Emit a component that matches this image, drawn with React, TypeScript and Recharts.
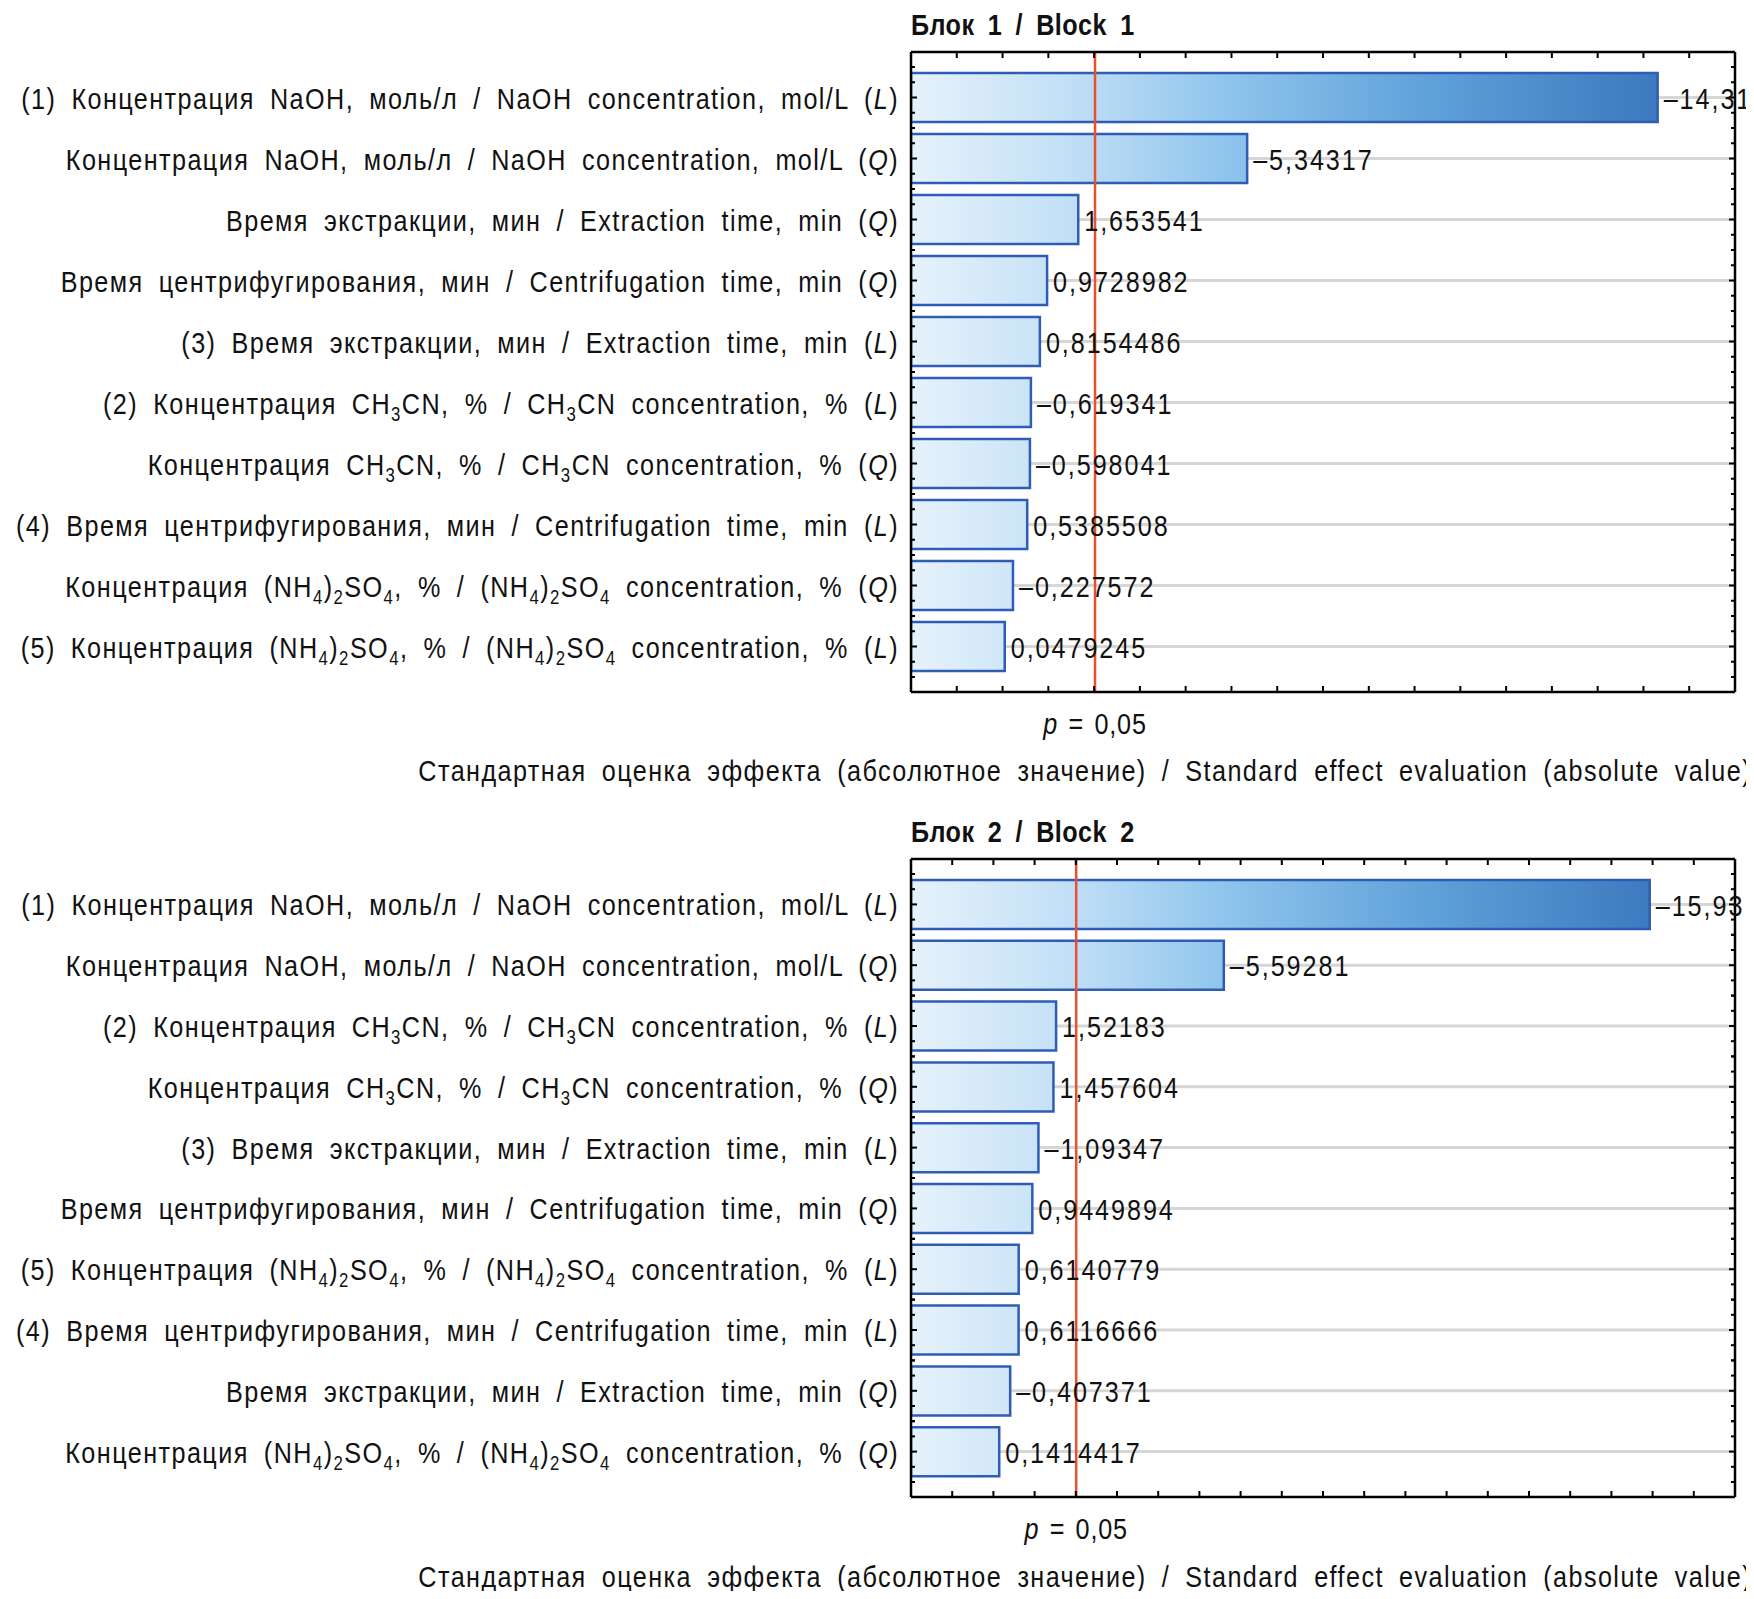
import React from "react";
import { BarChart, Bar, XAxis, YAxis, CartesianGrid, ReferenceLine, LabelList } from "recharts";

// Block 1: effects sorted by absolute value (sign kept for the labels)
const labels1 = [
  "(1) Концентрация NaOH, моль/л / NaOH concentration, mol/L (L)",
  "Концентрация NaOH, моль/л / NaOH concentration, mol/L (Q)",
  "Время экстракции, мин / Extraction time, min (Q)",
  "Время центрифугирования, мин / Centrifugation time, min (Q)",
  "(3) Время экстракции, мин / Extraction time, min (L)",
  "(2) Концентрация CH_3CN, % / CH_3CN concentration, % (L)",
  "Концентрация CH_3CN, % / CH_3CN concentration, % (Q)",
  "(4) Время центрифугирования, мин / Centrifugation time, min (L)",
  "Концентрация (NH_4)_2SO_4, % / (NH_4)_2SO_4 concentration, % (Q)",
  "(5) Концентрация (NH_4)_2SO_4, % / (NH_4)_2SO_4 concentration, % (L)",
];
const effects1 = [-14.31, -5.34317, 1.653541, 0.9728982, 0.8154486, -0.619341, -0.598041, 0.5385508, -0.227572, 0.0479245];

// Block 2
const labels2 = [
  "(1) Концентрация NaOH, моль/л / NaOH concentration, mol/L (L)",
  "Концентрация NaOH, моль/л / NaOH concentration, mol/L (Q)",
  "(2) Концентрация CH_3CN, % / CH_3CN concentration, % (L)",
  "Концентрация CH_3CN, % / CH_3CN concentration, % (Q)",
  "(3) Время экстракции, мин / Extraction time, min (L)",
  "Время центрифугирования, мин / Centrifugation time, min (Q)",
  "(5) Концентрация (NH_4)_2SO_4, % / (NH_4)_2SO_4 concentration, % (L)",
  "(4) Время центрифугирования, мин / Centrifugation time, min (L)",
  "Время экстракции, мин / Extraction time, min (Q)",
  "Концентрация (NH_4)_2SO_4, % / (NH_4)_2SO_4 concentration, % (Q)",
];
const effects2 = [-15.93, -5.59281, 1.52183, 1.457604, -1.09347, 0.9449894, 0.6140779, 0.6116666, -0.407371, 0.1414417];

const ticks1 = [-2, -1, 0, 1, 2, 3, 4, 5, 6, 7, 8, 9, 10, 11, 12, 13, 14, 15, 16];
const ticks2 = [-2, -1, 0, 1, 2, 3, 4, 5, 6, 7, 8, 9, 10, 11, 12, 13, 14, 15, 16, 17, 18];
const critical1 = 2.02;
const critical2 = 2.01;
const axisMin = -2;

// narrow look: Liberation Sans squeezed horizontally
const FONT = "'Liberation Sans', Arial, sans-serif";
const SX = 0.84;
const FS = 30;
const LABEL_GAP = 12;
const TICK = 6;
const MINOR = 4;
const PAD = 15;

function fmt(v: number) {
  return (v < 0 ? "–" : "") + String(Math.abs(v)).replace(".", ",");
}

// "CH_3CN" -> subscript 3, trailing "(L)"/"(Q)" -> italic letter
function RichText({ text }: { text: string }) {
  const parts = text.split(/(_\d|\([LQ]\)$)/).filter(Boolean);
  const out: React.ReactNode[] = [];
  let shifted = false;
  parts.forEach((p, i) => {
    if (p.startsWith("_")) {
      out.push(
        <tspan key={i} dy={shifted ? 0 : 7} fontSize={20}>
          {p.slice(1)}
        </tspan>
      );
      shifted = true;
      return;
    }
    const dy = shifted ? -7 : undefined;
    shifted = false;
    if (/^\([LQ]\)$/.test(p)) {
      out.push(
        <tspan key={i} dy={dy}>
          (<tspan fontStyle="italic">{p[1]}</tspan>)
        </tspan>
      );
    } else {
      out.push(
        <tspan key={i} dy={dy}>
          {p}
        </tspan>
      );
    }
  });
  return <>{out}</>;
}

// text squeezed horizontally around its anchor point
function NarrowText({ x, y, anchor = "start", size = FS, ls = 1.7, ws = 8, bold = false, children }: any) {
  return (
    <g transform={`translate(${x},${y}) scale(${SX},1)`}>
      <text
        x={0}
        y={0}
        textAnchor={anchor}
        fontFamily={FONT}
        fontSize={size}
        fontWeight={bold ? "bold" : "normal"}
        letterSpacing={ls}
        wordSpacing={ws}
        fill="#111"
      >
        {children}
      </text>
    </g>
  );
}

// major tick at the bar centre, minor ticks every quarter band
function bandTicks(x: number, y: number, q: number, dir: number) {
  const out: React.ReactNode[] = [];
  [-2, -1, 0, 1, 2].forEach((k) => {
    const len = k === 0 ? TICK : MINOR;
    out.push(<line key={k} x1={x} x2={x + dir * len} y1={y + k * q} y2={y + k * q} stroke="#000" strokeWidth={2} />);
  });
  return out;
}

const YTick = (props: any) => {
  const { x, y, payload, q } = props;
  return (
    <g>
      <NarrowText x={x} y={y + 11} anchor="end">
        <RichText text={payload.value} />
      </NarrowText>
      {bandTicks(x + LABEL_GAP, y, q, 1)}
    </g>
  );
};

const RightTick = (props: any) => {
  const { x, y, q } = props;
  return <g>{bandTicks(x, y, q, -1)}</g>;
};

const BottomTick = (props: any) => {
  const { x, y } = props;
  return <line x1={x} x2={x} y1={y - TICK} y2={y} stroke="#000" strokeWidth={2} />;
};

const TopTick = (props: any) => {
  const { x, y } = props;
  return <line x1={x} x2={x} y1={y} y2={y + TICK} stroke="#000" strokeWidth={2} />;
};

const ValueLabel = (props: any) => {
  const { x, y, width, height, value } = props;
  return (
    <NarrowText x={x + width + 6} y={y + height / 2 + 11} ls={2.3} ws={0}>
      {value}
    </NarrowText>
  );
};

const PLabel = (props: any) => {
  const vb = props.viewBox || {};
  return (
    <NarrowText x={vb.x} y={vb.y + vb.height + 42} anchor="middle" ls={1} ws={3}>
      <tspan fontStyle="italic">p</tspan> = 0,05
    </NarrowText>
  );
};

type ParetoProps = {
  id: string;
  labels: string[];
  effects: number[];
  ticks: number[];
  critical: number;
  height: number;
  top: number;
  bottom: number;
};

function Pareto({ id, labels, effects, ticks, critical, height, top, bottom }: ParetoProps) {
  const data = labels.map((name, i) => ({
    name,
    range: [axisMin, Math.abs(effects[i])],
    text: fmt(effects[i]),
  }));
  const xMax = ticks[ticks.length - 1];
  const axisLine = { stroke: "#000", strokeWidth: 2.5 };
  const q = (height - top - bottom - 2 * PAD) / labels.length / 4;
  return (
    <BarChart
      width={1754}
      height={height}
      data={data}
      layout="vertical"
      margin={{ top: top - 1, right: 18, bottom: bottom - 1, left: 0 }}
      barSize={49}
    >
      <defs>
        <linearGradient id={id} gradientUnits="userSpaceOnUse" x1="52%" y1="0" x2="95%" y2="0">
          <stop offset="0%" stopColor="#e6f2fb" />
          <stop offset="20%" stopColor="#c3e0f6" />
          <stop offset="42%" stopColor="#8ec4ec" />
          <stop offset="70%" stopColor="#5d9fd8" />
          <stop offset="100%" stopColor="#3b77bd" />
        </linearGradient>
      </defs>
      <CartesianGrid horizontal vertical={false} syncWithTicks stroke="#d6d6d6" strokeWidth={3} />
      <XAxis
        type="number"
        domain={[axisMin, xMax]}
        ticks={ticks}
        allowDataOverflow
        tick={<BottomTick />}
        tickLine={false}
        tickSize={0}
        tickMargin={0}
        height={1}
        axisLine={axisLine}
        interval={0}
      />
      <XAxis
        xAxisId="top"
        orientation="top"
        type="number"
        domain={[axisMin, xMax]}
        ticks={ticks}
        allowDataOverflow
        tick={<TopTick />}
        tickLine={false}
        tickSize={0}
        tickMargin={0}
        height={1}
        axisLine={axisLine}
        interval={0}
      />
      <YAxis
        type="category"
        dataKey="name"
        width={911}
        padding={{ top: PAD, bottom: PAD }}
        tick={<YTick q={q} />}
        tickLine={false}
        tickSize={0}
        tickMargin={LABEL_GAP}
        axisLine={axisLine}
        interval={0}
      />
      <YAxis
        yAxisId="right"
        orientation="right"
        type="category"
        dataKey="name"
        width={1}
        padding={{ top: PAD, bottom: PAD }}
        tick={<RightTick q={q} />}
        tickLine={false}
        tickSize={0}
        tickMargin={0}
        axisLine={axisLine}
        interval={0}
      />
      <Bar dataKey="range" fill={`url(#${id})`} stroke="#2f5db6" strokeWidth={2.5} isAnimationActive={false}>
        <LabelList dataKey="text" content={<ValueLabel />} />
      </Bar>
      <ReferenceLine x={critical} stroke="#e8502e" strokeWidth={2.5} label={<PLabel />} />
    </BarChart>
  );
}

const axisTitle =
  "Стандартная оценка эффекта (абсолютное значение) / Standard effect evaluation (absolute value)";

export default function App() {
  return (
    <div style={{ position: "relative", width: 1754, height: 1599, margin: -8, background: "#fff" }}>
      <div style={{ position: "absolute", left: 0, top: 0 }}>
        <Pareto id="g1" labels={labels1} effects={effects1} ticks={ticks1} critical={critical1} height={800} top={52} bottom={108} />
      </div>
      <div style={{ position: "absolute", left: 0, top: 800 }}>
        <Pareto id="g2" labels={labels2} effects={effects2} ticks={ticks2} critical={critical2} height={799} top={59} bottom={102} />
      </div>
      <svg width={1754} height={1599} style={{ position: "absolute", left: 0, top: 0, pointerEvents: "none" }}>
        <NarrowText x={911} y={35} bold ls={0.5} ws={7}>
          Блок 1 / Block 1
        </NarrowText>
        <NarrowText x={911} y={842} bold ls={0.5} ws={7}>
          Блок 2 / Block 2
        </NarrowText>
        <NarrowText x={1752} y={781} anchor="end">
          {axisTitle}
        </NarrowText>
        <NarrowText x={1752} y={1587} anchor="end">
          {axisTitle}
        </NarrowText>
      </svg>
    </div>
  );
}
